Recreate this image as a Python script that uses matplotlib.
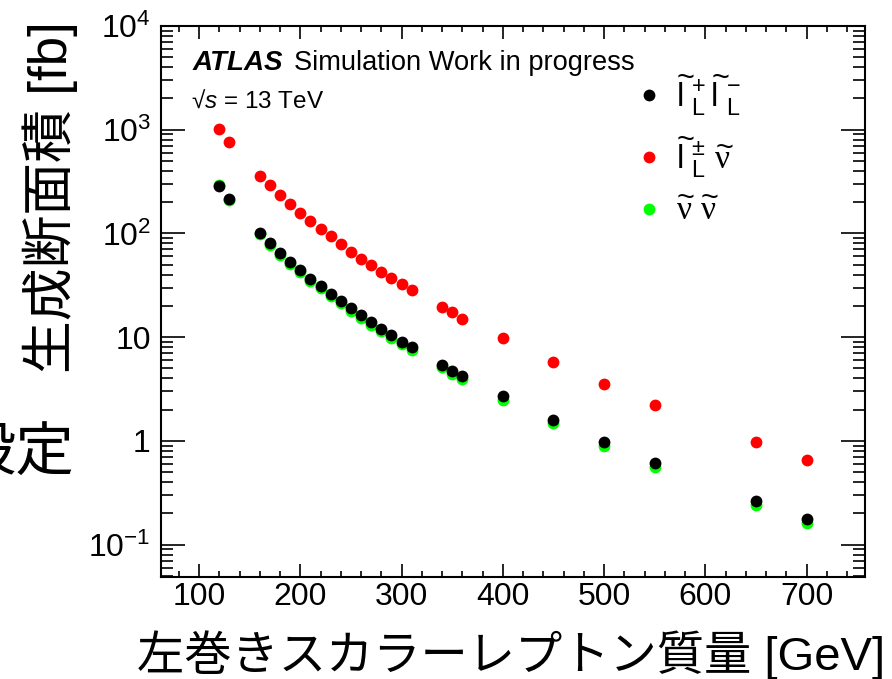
import math
import matplotlib
matplotlib.use('Agg')
import matplotlib.pyplot as plt
from matplotlib.ticker import FixedLocator, LogLocator, FuncFormatter, NullFormatter, MultipleLocator

plt.rcParams['font.family'] = ['Liberation Sans', 'DejaVu Sans']
plt.rcParams['mathtext.fontset'] = 'custom'
plt.rcParams['mathtext.rm'] = 'Liberation Sans'
plt.rcParams['mathtext.it'] = 'Liberation Sans:italic'
plt.rcParams['mathtext.bf'] = 'Liberation Sans:bold'
plt.rcParams['mathtext.tt'] = 'Liberation Serif'   # used for the Times-like nu

# masses [GeV]
mass = [120, 130, 160, 170, 180, 190, 200, 210, 220, 230, 240, 250, 260, 270, 280, 290, 300, 310,
        340, 350, 360, 400, 450, 500, 550, 650, 700]

# l~L+ l~L-  (black)
xs_ll = [285, 216, 101.7, 80.1, 65.2, 52.9, 44.1, 36.7, 31.1, 26.3, 22.3, 19.0, 16.3, 14.0, 12.1, 10.4, 9.02, 7.96,
         5.42, 4.74, 4.19, 2.69, 1.59, 0.977, 0.614, 0.263, 0.178]
# l~L± nu~  (red)
xs_lv = [1020, 767, 361, 290, 233, 191, 158, 131, 111, 93.5, 78.9, 66.7, 57.1, 49.2, 42.8, 36.9, 32.5, 28.3,
         19.4, 17.4, 15.1, 9.73, 5.71, 3.53, 2.23, 0.964, 0.652]
# nu~ nu~  (green)
xs_vv = [292, 210, 98, 77, 62, 50.5, 42, 35, 29.5, 25, 21.2, 18, 15.4, 13.2, 11.4, 9.8, 8.5, 7.5,
         5.1, 4.45, 3.95, 2.5, 1.47, 0.9, 0.565, 0.24, 0.162]

labels = [r'$\widetilde{\mathrm{l}\;}_{\mathrm{L}}^{+}\,\widetilde{\mathrm{l}\;}_{\mathrm{L}}^{-}$',
          r'$\widetilde{\mathrm{l}\;}_{\mathrm{L}}^{\pm}\ \widetilde{\mathtt{\nu}}$',
          r'$\widetilde{\mathtt{\nu}}\ \widetilde{\mathtt{\nu}}$']

fig = plt.figure(figsize=(8.92, 6.79), dpi=100)
ax = fig.add_axes([0.180, 0.1507, 0.790, 0.811])

ms = 8.5
ax.plot(mass, xs_vv, 'o', color='#00ff00', ms=ms, mec='none', label=labels[2], zorder=3)
ax.plot(mass, xs_lv, 'o', color='#ff0000', ms=ms, mec='none', label=labels[1], zorder=3)
ax.plot(mass, xs_ll, 'o', color='black', ms=ms, mec='none', label=labels[0], zorder=4)

ax.set_yscale('log')
ax.set_xlim(62, 758)
ax.set_ylim(0.049, 1e4)

ax.xaxis.set_major_locator(FixedLocator([100, 200, 300, 400, 500, 600, 700]))
ax.xaxis.set_minor_locator(MultipleLocator(20))
ax.yaxis.set_major_locator(FixedLocator([0.1, 1, 10, 100, 1000, 10000]))
ax.yaxis.set_minor_locator(LogLocator(base=10, subs=range(2, 10), numticks=20))
ax.yaxis.set_minor_formatter(NullFormatter())


def yfmt(v, pos):
    if abs(v - 1) < 1e-9:
        return '1'
    if abs(v - 10) < 1e-9:
        return '10'
    return r'$10^{%d}$' % round(math.log10(v))


ax.yaxis.set_major_formatter(FuncFormatter(yfmt))

for s in ax.spines.values():
    s.set_linewidth(1.5)

ax.tick_params(which='both', direction='in', top=True, right=True, width=1.2, labelsize=23)
ax.tick_params(axis='x', which='major', length=9.4, pad=4)
ax.tick_params(axis='x', which='minor', length=4.3)
ax.tick_params(axis='y', which='major', length=17, pad=7)
ax.tick_params(axis='y', which='minor', length=8.6)

# ATLAS label
ax.text(0.046, 0.92, 'ATLAS', transform=ax.transAxes, fontsize=20, fontweight='bold', fontstyle='italic')
ax.text(0.19, 0.92, 'Simulation Work in progress', transform=ax.transAxes, fontsize=19.6)
ax.text(0.043, 0.852, r'√$s$ = 13 TeV', transform=ax.transAxes, fontsize=17.5)

# legend
handles, labs = ax.get_legend_handles_labels()
order = [2, 1, 0]
leg = ax.legend([handles[i] for i in order], [labs[i] for i in order],
                loc='upper left', bbox_to_anchor=(0.637, 0.97), frameon=False,
                handlelength=0.6, handletextpad=0.5, labelspacing=0.5,
                fontsize=24)

# axis titles (latin glyphs from Liberation Sans, kanji/kana from Noto CJK)
jp = ['Liberation Sans', 'Noto Sans CJK JP']
fig.text(50 / 892, 1 - 197 / 679, '生成断面積 [fb]', rotation=90, ha='center', va='center',
         fontsize=38, family=jp)
fig.text(137 / 892, 1 - 655 / 679, '左巻きスカラーレプトン質量 [GeV]', ha='left', va='center',
         fontsize=34, family=jp)
fig.text(75 / 892, 1 - 455 / 679, '設定', ha='right', va='center', fontsize=42, family=jp)

fig.savefig('out.png', dpi=100)
